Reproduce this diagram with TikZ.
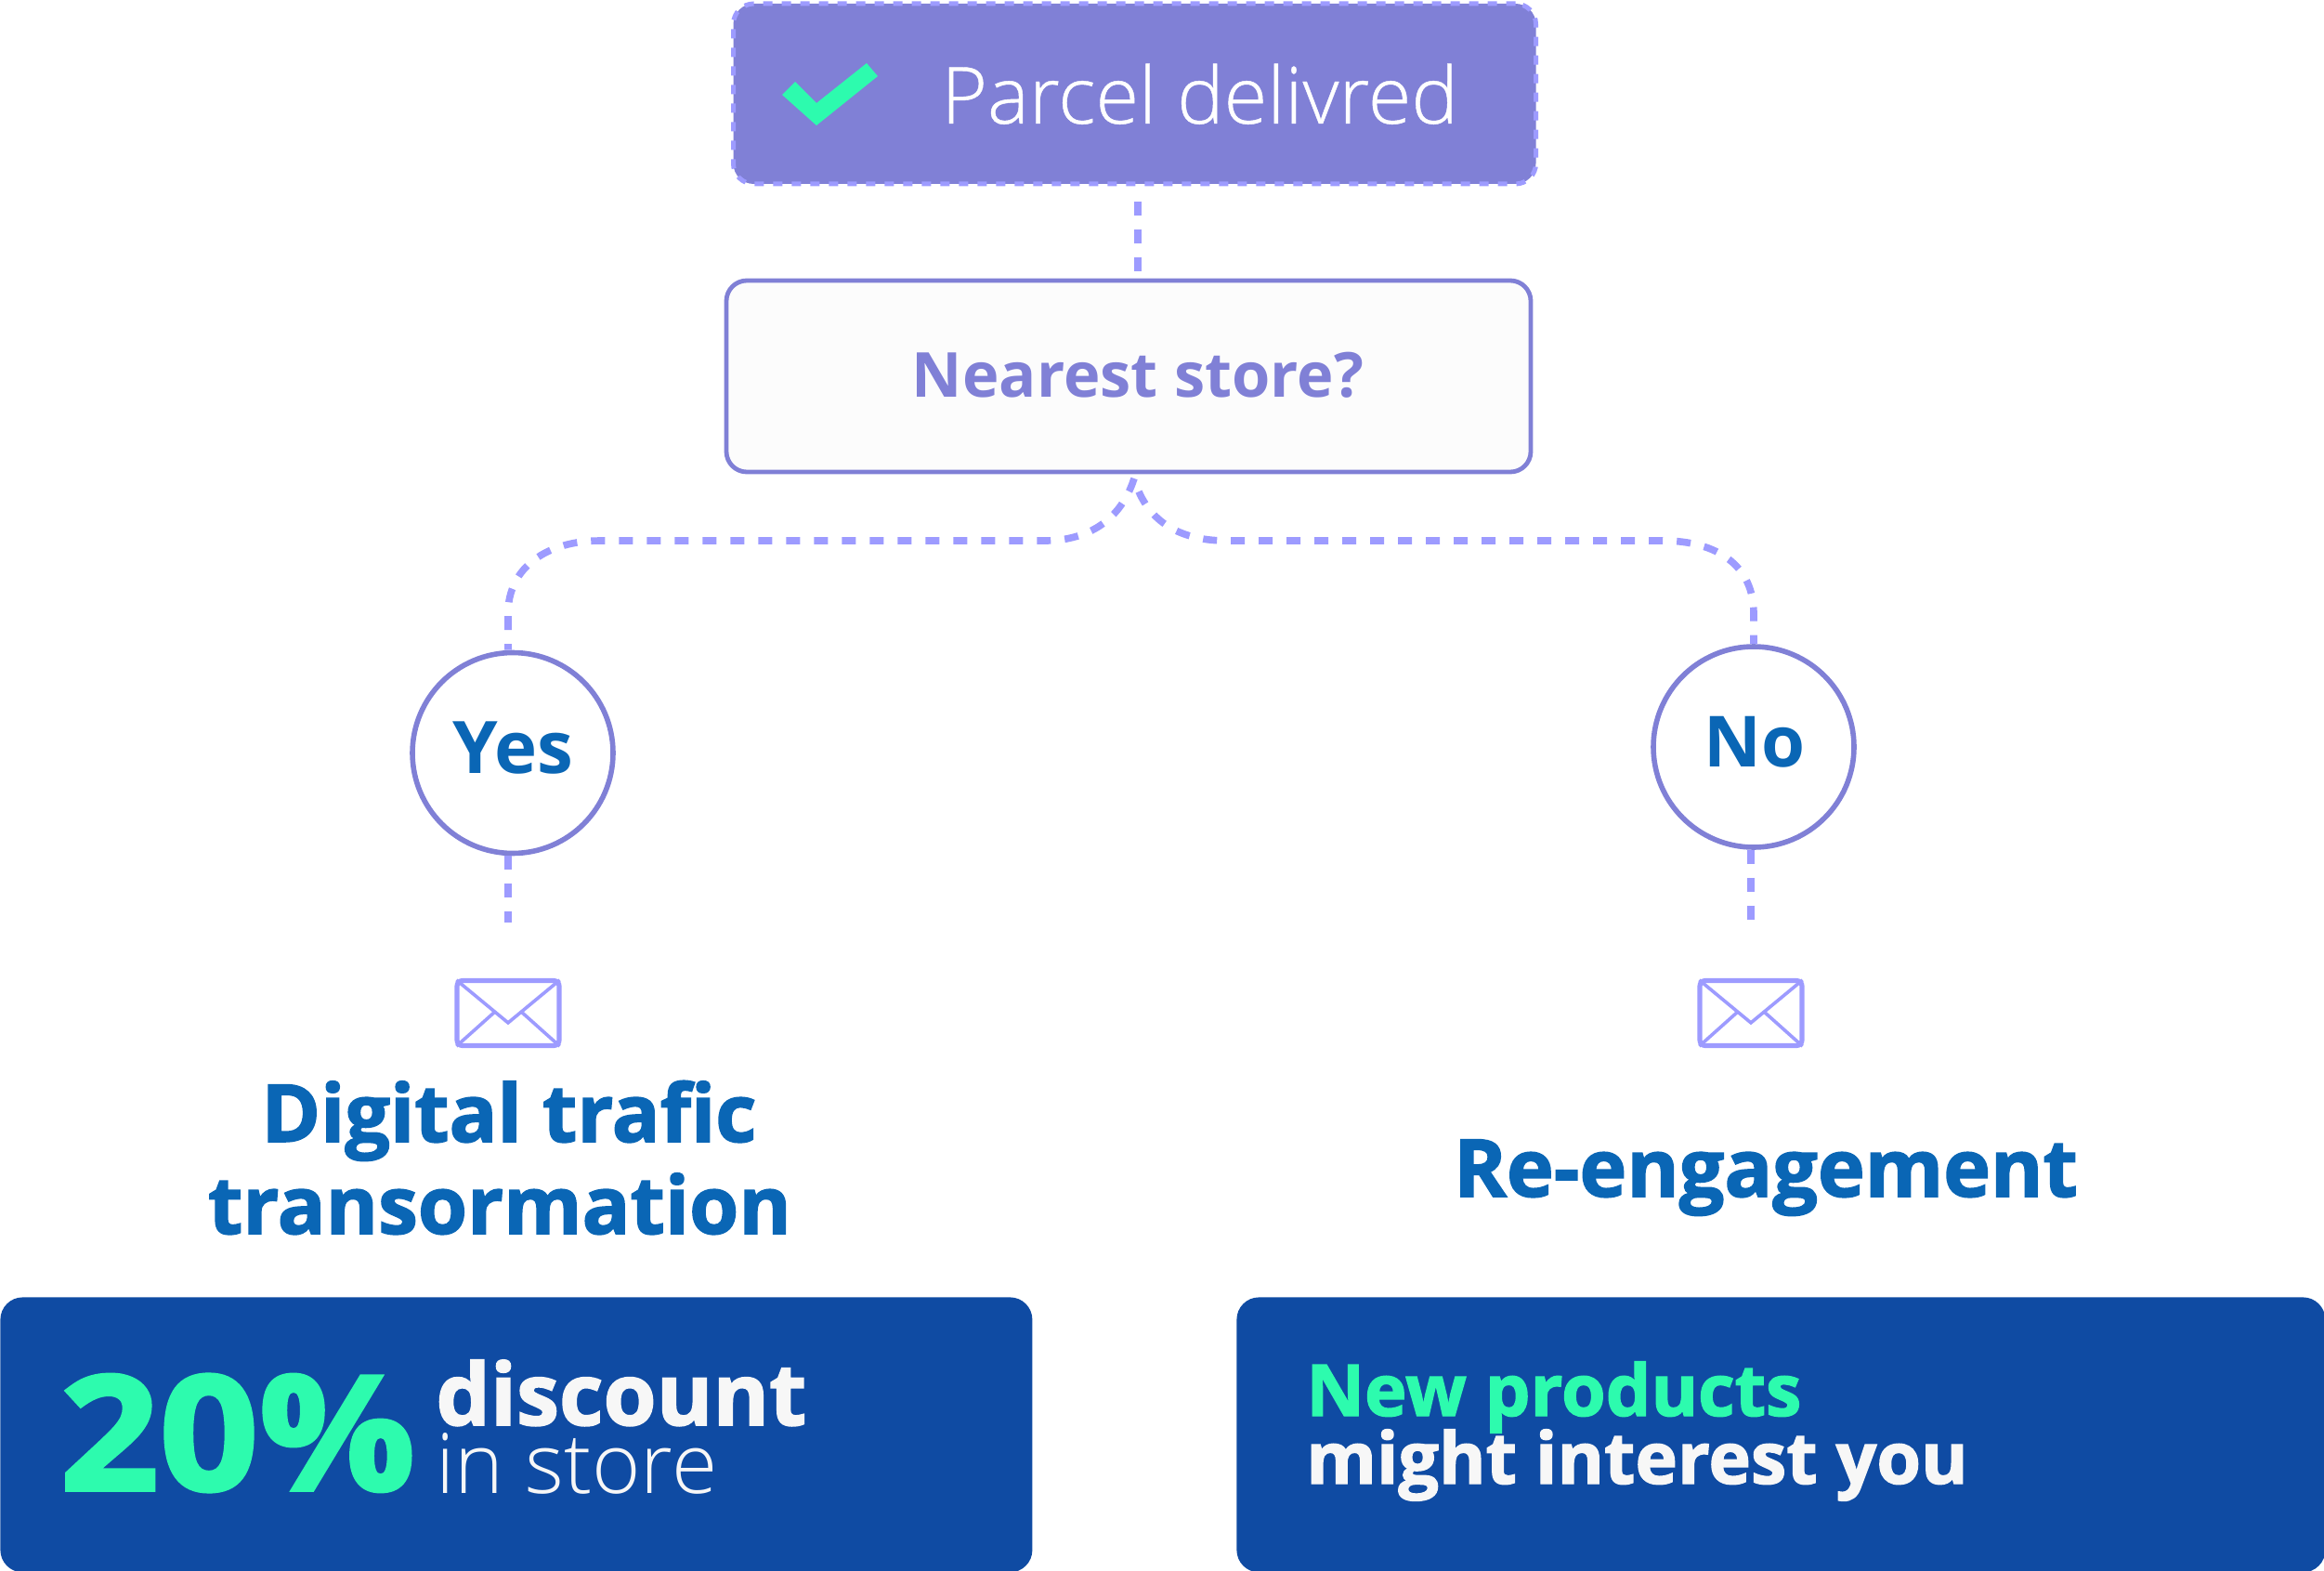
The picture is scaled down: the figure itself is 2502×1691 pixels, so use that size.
\documentclass[tikz,border=0pt]{standalone}
\usepackage{fontspec}
\usepackage{xcolor}
\setmainfont{Open Sans}
\newfontfamily\oslight{Open Sans Light}
\newfontfamily\osthin{Open Sans Light}[FakeBold=0.5]
\newfontfamily\osxbold{Open Sans}[BoldFeatures={FakeBold=1.8}]
\newfontfamily\oswide{Open Sans}[BoldFeatures={FakeBold=2.2,FakeStretch=1.09}]
\definecolor{violetfill}{HTML}{8080D6}
\definecolor{violetdash}{HTML}{9D9BFF}
\definecolor{mintgreen}{HTML}{2DFBAE}
\definecolor{textblue}{HTML}{0A66B5}
\definecolor{panelblue}{HTML}{0F4BA3}
\definecolor{offwhite}{HTML}{F7F7F7}
\begin{document}
\begin{tikzpicture}[
  x=0.5pt, y=-0.5pt,
  status/.style={fill=violetfill, draw=violetdash, line width=2.5pt, dash pattern=on 5pt off 5pt,
                 rounded corners=11pt, minimum width=432pt, minimum height=97pt, inner sep=0pt},
  question/.style={fill=white!99!black, draw=violetfill, line width=2.4pt, rounded corners=11pt,
                   minimum width=433pt, minimum height=103pt, inner sep=0pt},
  answer/.style={circle, draw=violetfill, fill=white, line width=2.8pt, minimum size=108pt, inner sep=0pt},
  panel/.style={fill=panelblue, rounded corners=12pt, anchor=north west, inner sep=0pt, minimum height=148pt},
  envelope/.style={draw=violetdash, line width=2.6pt, rounded corners=3pt, minimum width=55pt,
                   minimum height=35pt, inner sep=0pt},
  fold/.style={draw=violetdash, line width=1.8pt},
  label/.style={inner sep=0pt, anchor=base west},
  link/.style={draw=violetdash, line width=3.8pt, dash pattern=on 7.5pt off 7.5pt}
]
\path[use as bounding box] (0,0) rectangle (2502,1691);

\node[status] (parcel) at (1221.5,101) {};
\node[question] (store) at (1215,405) {};
\node[answer] (yes) at (552,810.5) {};
\node[answer] (no) at (1888,804) {};
\node[envelope] (envyes) at (547,1090.5) {};
\node[envelope] (envno) at (1885,1090.5) {};
\node[panel, minimum width=555.5pt] (left) at (0,1396) {};
\node[panel, minimum width=586pt] (right) at (1331,1396) {};

\fill[mintgreen] (842,102) -- (856,88) -- (879,111) -- (933,68) -- (945,82) -- (879,135) -- cycle;
\node[label, text=white] (parceltxt) at (1013,133) {\osthin\fontsize{42.4}{42.4}\selectfont Parcel delivred};
\node[label, anchor=base, text=violetfill] (storetxt) at (1225,427) {\bfseries\fontsize{33.4}{33.4}\selectfont Nearest store?};
\node[label, anchor=base, text=textblue] (yestxt) at (552,832) {\bfseries\fontsize{39}{39}\selectfont Yes};
\node[label, anchor=base, text=textblue] (notxt) at (1889,825) {\bfseries\fontsize{38}{38}\selectfont No};
\node[label, anchor=base, text=textblue] (digital) at (548,1229) {\osxbold\bfseries\fontsize{43}{43}\selectfont Digital trafic};
\node[label, anchor=base, text=textblue] (transo) at (538,1328) {\osxbold\bfseries\fontsize{43}{43}\selectfont transormation};
\node[label, anchor=base, text=textblue] (reeng) at (1901,1288) {\osxbold\bfseries\fontsize{43}{43}\selectfont Re-engagement};
\node[label, text=mintgreen] (percent) at (64,1604) {\oswide\bfseries\fontsize{86}{86}\selectfont 20\%};
\node[label, text=offwhite] (discount) at (469,1534) {\osxbold\bfseries\fontsize{46.2}{46.2}\selectfont discount};
\node[label, text=offwhite] (instore) at (469,1607) {\oslight\fontsize{44.8}{44.8}\selectfont in store};
\node[label, text=mintgreen] (newprod) at (1406,1524) {\osxbold\bfseries\fontsize{38.5}{38.5}\selectfont New products};
\node[label, text=offwhite] (might) at (1406,1597) {\osxbold\bfseries\fontsize{38.5}{38.5}\selectfont might interest you};

\coordinate (fork) at (1221,515);
\draw[link] ([xshift=1.75pt,yshift=-8pt]parcel.south) -- ([xshift=5pt,yshift=3.5pt]store.north);
\draw[link] (fork) .. controls (1205,565) and (1165,582) .. (1125,582) -- (646,582)
  .. controls (590,582) and (547,610) .. (547,660) -- ([xshift=-2.5pt]yes.north);
\draw[link, dash phase=7.5pt] (fork) .. controls (1235,565) and (1275,582) .. (1320,582) -- (1790,582)
  .. controls (1850,582) and (1888,610) .. (1888,660) -- (no.north);
\draw[link] ([xshift=-2.5pt]yes.south) -- ++(0,72);
\draw[link] ([xshift=-1.6pt]no.south) -- ++(0,84);

\foreach \env in {envyes,envno} {
  \draw[fold] ([xshift=1pt,yshift=-1pt]\env.north west) -- ([yshift=-24pt]\env.north) -- ([xshift=-1pt,yshift=-1pt]\env.north east);
  \draw[fold] ([xshift=1pt,yshift=1pt]\env.south west) -- ([xshift=-7pt,yshift=-18pt]\env.north);
  \draw[fold] ([xshift=-1pt,yshift=1pt]\env.south east) -- ([xshift=7pt,yshift=-18pt]\env.north);
}
\end{tikzpicture}
\end{document}
